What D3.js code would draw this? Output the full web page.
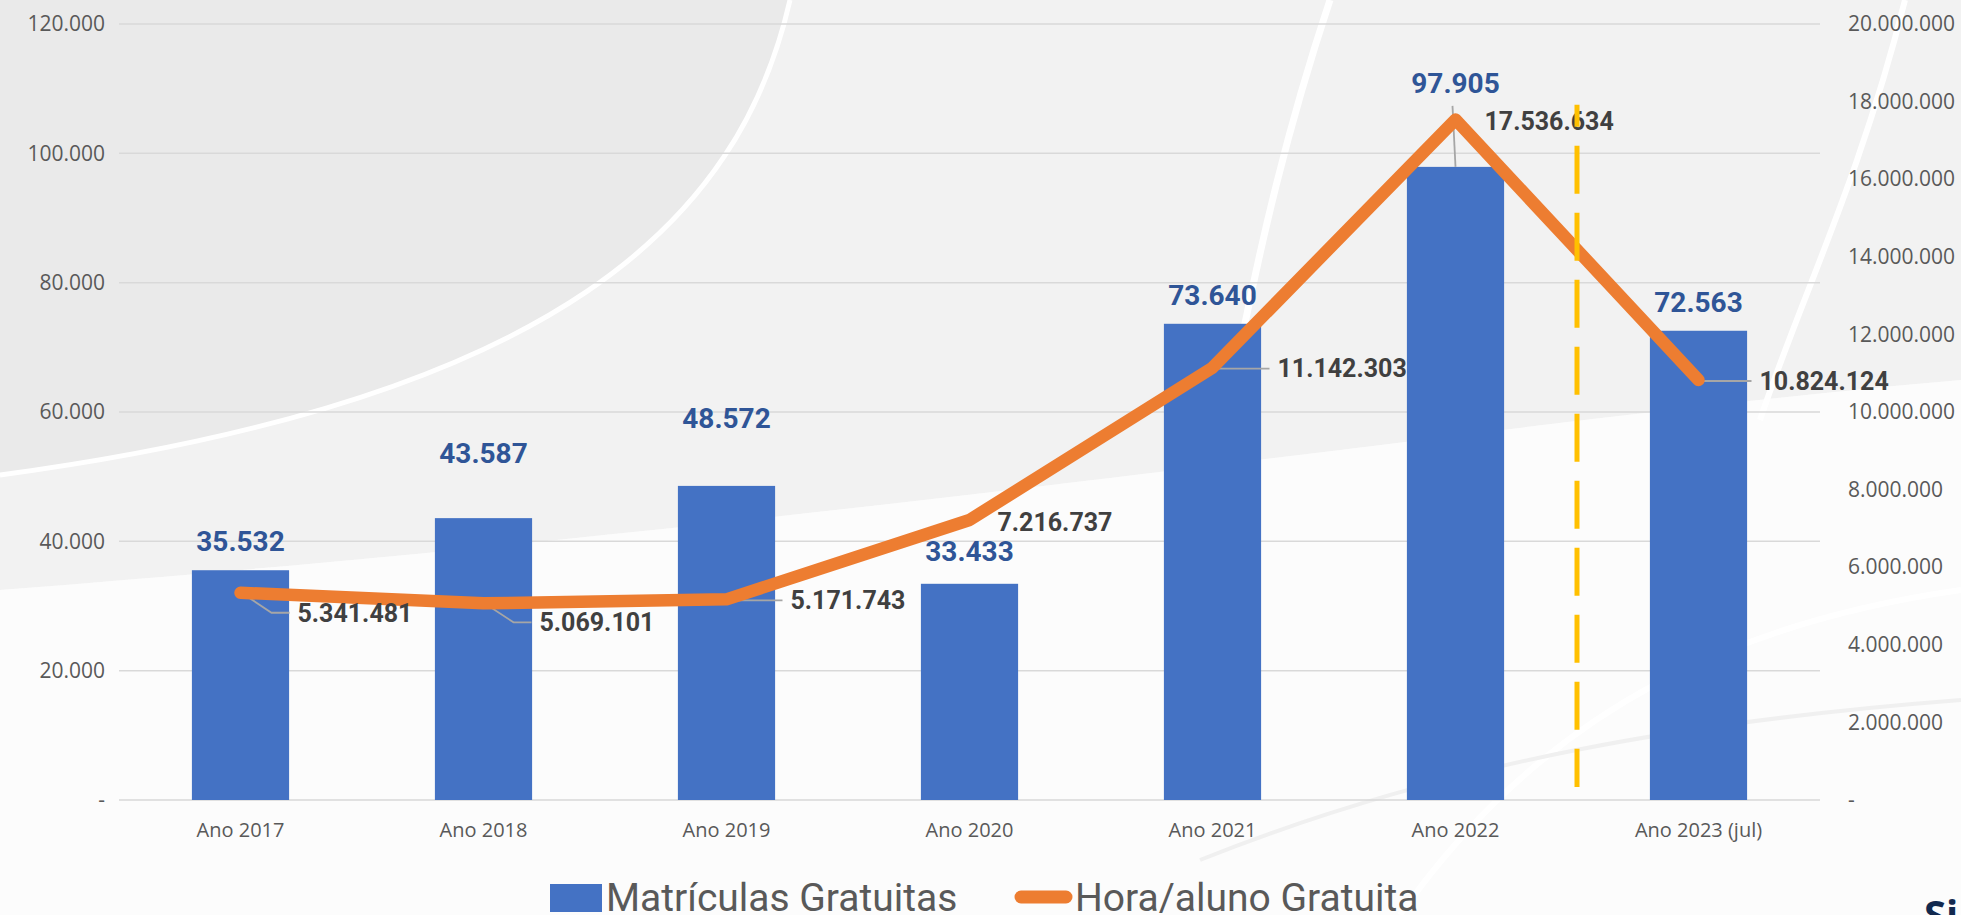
<!DOCTYPE html>
<html>
<head>
  <meta charset="UTF-8" />
  <title>Matrículas e Hora/aluno Gratuitas</title>
  <style>
    body {
      padding: 0;
      margin: 0;
      overflow: hidden;
    }
  </style>
</head>
<body>

<svg width="1961" height="915" xmlns="http://www.w3.org/2000/svg"></svg>

<script src="https://d3js.org/d3.v7.min.js"></script>
<script>

var categories = ["Ano 2017", "Ano 2018", "Ano 2019", "Ano 2020", "Ano 2021", "Ano 2022", "Ano 2023 (jul)"]
var matriculas = [35532, 43587, 48572, 33433, 73640, 97905, 72563]
var horaAluno = [5341481, 5069101, 5171743, 7216737, 11142303, 17536634, 10824124]
var leftTicks = [0, 20000, 40000, 60000, 80000, 100000, 120000]
var rightTicks = [0, 2000000, 4000000, 6000000, 8000000, 10000000, 12000000, 14000000, 16000000, 18000000, 20000000]

// label placement, tuned by eye (Excel had them moved by hand)
var barLabelGap = [29, 65, 68, 33, 29, 84, 29]
var lineLabelDx = [57, 56, 64, 28, 65, 29, 61]
var lineLabelDy = [20, 19, 1, 2, 1, 2, 1]
var leaderType = ["diag", "diag", "flat", "none", "flat", "none", "flat"]

var blue = "#4472C4"
var orange = "#ED7D31"
var W = 1961, H = 915
var pLeft = 119, pRight = 1820, pTop = 24, pBottom = 800

var loc = d3.formatLocale({decimal: ",", thousands: ".", grouping: [3], currency: ["", ""]})
var fmt = loc.format(",d")
var tickFmt = d => d === 0 ? "-" : fmt(d)

var svg = d3.select("svg")

// background
var bg = svg.append("g")
bg.append("rect").attr("width", W).attr("height", H).attr("fill", "#f8f8f8")
bg.append("path")
  .attr("d", "M0,0 L1961,0 L1961,380 C1500,420 900,520 0,590 Z")
  .attr("fill", "#f2f2f2")
bg.append("path")
  .attr("d", "M0,0 L790,0 C740,220 560,400 0,475 Z")
  .attr("fill", "#eaeaea")
bg.append("path")
  .attr("d", "M790,0 C740,220 560,400 0,475")
  .attr("fill", "none").attr("stroke", "#fff").attr("stroke-width", 5)
bg.append("path")
  .attr("d", "M0,590 C900,520 1500,420 1961,380 L1961,915 L0,915 Z")
  .attr("fill", "#fcfcfc")
bg.append("path")
  .attr("d", "M1330,0 C1290,120 1260,240 1230,400")
  .attr("fill", "none").attr("stroke", "#fff").attr("stroke-width", 7)
bg.append("path")
  .attr("d", "M1905,0 C1860,180 1800,300 1760,420")
  .attr("fill", "none").attr("stroke", "#fff").attr("stroke-width", 6)
bg.append("path")
  .attr("d", "M1400,915 C1550,700 1750,620 1961,590")
  .attr("fill", "none").attr("stroke", "#fff").attr("stroke-width", 6)
bg.append("path")
  .attr("d", "M1200,860 C1450,760 1700,720 1961,700")
  .attr("fill", "none").attr("stroke", "#f0f0f0").attr("stroke-width", 4)

var x = d3.scaleBand().domain(categories).range([pLeft, pRight]).paddingInner(0.6).paddingOuter(0.3)
var yL = d3.scaleLinear().domain([0, 120000]).range([pBottom, pTop])
var yR = d3.scaleLinear().domain([0, 20000000]).range([pBottom, pTop])

// gridlines
svg.append("g")
  .selectAll("line")
  .data(leftTicks)
  .enter()
  .append("line")
  .attr("x1", pLeft).attr("x2", pRight)
  .attr("y1", d => yL(d)).attr("y2", d => yL(d))
  .attr("stroke", "#d9d9d9")
  .attr("stroke-width", 1.5)

// left axis
var axL = svg.append("g")
  .attr("transform", "translate(" + (pLeft - 6) + ",0)")
  .call(d3.axisLeft(yL).tickValues(leftTicks).tickFormat(tickFmt).tickSize(0).tickPadding(8))
axL.select(".domain").remove()
axL.selectAll("text")
  .attr("font-family", "'Open Sans', sans-serif")
  .attr("font-size", 21)
  .attr("fill", "#595959")

// right axis
var axR = svg.append("g")
  .attr("transform", "translate(" + (pRight + 20) + ",0)")
  .call(d3.axisRight(yR).tickValues(rightTicks).tickFormat(tickFmt).tickSize(0).tickPadding(8))
axR.select(".domain").remove()
axR.selectAll("text")
  .attr("font-family", "'Open Sans', sans-serif")
  .attr("font-size", 21)
  .attr("fill", "#595959")

// category axis
var axX = svg.append("g")
  .attr("transform", "translate(0," + pBottom + ")")
  .call(d3.axisBottom(x).tickSize(0).tickPadding(23))
axX.select(".domain").remove()
axX.selectAll("text")
  .attr("font-family", "'Open Sans', sans-serif")
  .attr("font-size", 20)
  .attr("fill", "#595959")

// bars
svg.append("g")
  .selectAll("rect")
  .data(matriculas)
  .enter()
  .append("rect")
  .attr("x", (d, i) => x(categories[i]))
  .attr("width", x.bandwidth())
  .attr("y", d => yL(d))
  .attr("height", d => pBottom - yL(d))
  .attr("fill", blue)

var cx = i => x(categories[i]) + x.bandwidth() / 2

// leader lines for the line labels
var leaders = svg.append("g").attr("stroke", "#a6a6a6").attr("stroke-width", 1.8).attr("fill", "none")
horaAluno.forEach((d, i) => {
  var px = cx(i), py = yR(d)
  var lx = px + lineLabelDx[i] - 8, ly = py + lineLabelDy[i]
  if (leaderType[i] === "diag") {
    leaders.append("polyline")
      .attr("points", [[px + 4, py + 2], [lx - 18, ly], [lx, ly]].map(p => p.join(",")).join(" "))
  } else if (leaderType[i] === "flat") {
    leaders.append("line")
      .attr("x1", px).attr("y1", ly).attr("x2", lx).attr("y2", ly)
  }
})
// bar label leader for 2022
leaders.append("line")
  .attr("x1", cx(5) - 3).attr("y1", yL(matriculas[5]) - barLabelGap[5] + 23)
  .attr("x2", cx(5)).attr("y2", yL(matriculas[5]))

// line
svg.append("path")
  .datum(horaAluno)
  .attr("d", d3.line().x((d, i) => cx(i)).y(d => yR(d)))
  .attr("fill", "none")
  .attr("stroke", orange)
  .attr("stroke-width", 12.5)
  .attr("stroke-linecap", "round")
  .attr("stroke-linejoin", "round")

// bar labels
svg.append("g")
  .selectAll("text")
  .data(matriculas)
  .enter()
  .append("text")
  .attr("x", (d, i) => cx(i))
  .attr("y", (d, i) => yL(d) - barLabelGap[i])
  .attr("dy", "0.35em")
  .attr("text-anchor", "middle")
  .attr("font-family", "Roboto, sans-serif")
  .attr("font-weight", "bold")
  .attr("font-size", 28)
  .attr("fill", "#2F5597")
  .text(d => fmt(d))

// line labels
svg.append("g")
  .selectAll("text")
  .data(horaAluno)
  .enter()
  .append("text")
  .attr("x", (d, i) => cx(i) + lineLabelDx[i])
  .attr("y", (d, i) => yR(d) + lineLabelDy[i])
  .attr("dy", "0.35em")
  .attr("font-family", "Roboto, sans-serif")
  .attr("font-weight", "bold")
  .attr("font-size", 25)
  .attr("fill", "#404040")
  .text(d => fmt(d))

// divider between 2022 and 2023, drawn on top
var divX = (x(categories[5]) + x(categories[6]) + x.bandwidth()) / 2
svg.append("line")
  .attr("x1", divX).attr("x2", divX)
  .attr("y1", yL(107500)).attr("y2", pBottom - 13)
  .attr("stroke", "#FFC000")
  .attr("stroke-width", 5)
  .attr("stroke-dasharray", "48,19")
  .attr("stroke-dashoffset", 26)

// legend
var lg = svg.append("g")
lg.append("rect").attr("x", 550).attr("y", 884).attr("width", 52).attr("height", 28).attr("fill", blue)
lg.append("text").attr("x", 606).attr("y", 911)
  .attr("font-family", "Roboto, sans-serif")
  .attr("font-size", 39).attr("fill", "#595959")
  .text("Matrículas Gratuitas")
lg.append("line").attr("x1", 1021).attr("x2", 1066).attr("y1", 897).attr("y2", 897)
  .attr("stroke", orange).attr("stroke-width", 13).attr("stroke-linecap", "round")
lg.append("text").attr("x", 1075).attr("y", 911)
  .attr("font-family", "Roboto, sans-serif")
  .attr("font-size", 39).attr("fill", "#595959")
  .text("Hora/aluno Gratuita")

// cut-off logo text in the corner
svg.append("text")
  .attr("x", 1924).attr("y", 929)
  .attr("font-family", "'Open Sans', sans-serif")
  .attr("font-weight", "bold")
  .attr("font-size", 40)
  .attr("fill", "#12294f")
  .text("Si")

</script>
</body>
</html>
